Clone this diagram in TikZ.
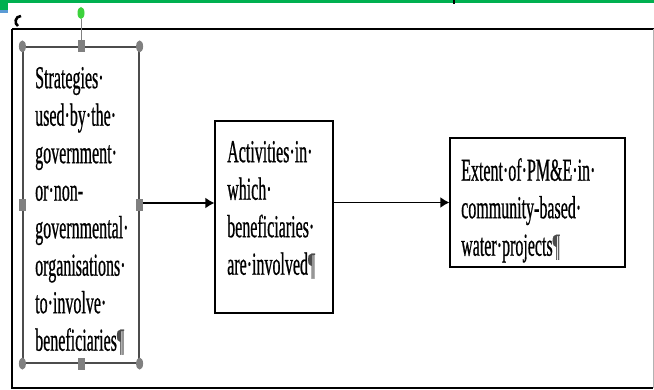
\documentclass[tikz,border=0pt]{standalone}
\usepackage{fontspec}
\setmainfont{Liberation Serif}
\newfontfamily\wordfont[FakeStretch=0.5,FakeBold=0.6]{Liberation Serif}
\usetikzlibrary{arrows.meta}
\definecolor{wordgreen}{HTML}{00B050}
\definecolor{handlegray}{HTML}{808080}
\definecolor{rotgreen}{HTML}{3CD23C}
\definecolor{tabblue}{HTML}{5B9BD5}
\begin{document}
\begin{tikzpicture}[x=1pt,y=-1pt,
  box/.style={draw=black,line width=1.2pt,rectangle,inner sep=0pt},
  selbox/.style={draw=black!70,line width=1.2pt,rectangle,inner sep=0pt},
  txt/.style={anchor=north west,inner sep=0pt,align=left,text=black,
    font=\wordfont\fontsize{32}{37.5}\selectfont},
  conn/.style={draw=black,line width=1.8pt,-{Latex[length=9pt,width=11pt]}},
  cornerhandle/.style={fill=handlegray,draw=none}]
\useasboundingbox (0,0) rectangle (654,390);
\fill[white] (0,0) rectangle (654,390);
% top bar of the editor
\fill[wordgreen] (0,0) rectangle (654,3.5);
\fill[wordgreen] (0,0) rectangle (8,10);
\fill[tabblue] (0,10) rectangle (8,13);
\fill[black] (453,0) rectangle (455,4);
% cut-off paragraph mark
\draw[line width=2.6pt,black] (21,16) .. controls (15,16) and (14,24) .. (18,26);
% outer frame
\draw[black,line width=1.5pt] (12,29) -- (654,29);
\draw[black,line width=1.2pt] (12,29) -- (12,388) -- (653,388);
\draw[black!30,line width=0.8pt] (653,29) -- (653,388);
% boxes
\node[selbox,minimum width=116pt,minimum height=316pt] (b1) at (81,205) {};
\node[box,minimum width=118pt,minimum height=192pt] (b2) at (274,217) {};
\node[box,minimum width=175pt,minimum height=129pt] (b3) at (537.5,202.5) {};
% texts
\node[txt] (t1) at (35,66) {\rule{0pt}{22pt}Strategies·\\used·by·the·\\government·\\or·non-\\governmental·\\organisations·\\to·involve·\\beneficiaries{\color{black!70}¶}};
\node[txt] (t2) at (227,140) {\rule{0pt}{22pt}Activities·in·\\which·\\beneficiaries·\\are·involved{\color{black!70}¶}};
\node[txt] (t3) at (461,158) {\rule{0pt}{22pt}Extent·of·PM\&E·in·\\community-based·\\water·projects{\color{black!70}¶}};
% connectors
\draw[conn] (b1.east |- 0,203) -- (b2.west |- 0,203);
\draw[conn] (b2.east |- b3.west) -- (b3.west);
% selection handles of the first box
\draw[handlegray,line width=1pt] (b1.north) -- (81,19);
\fill[rotgreen] (81,13) ellipse (3.5pt and 6pt);
\foreach \p in {b1.north west,b1.north east,b1.south west,b1.south east}
  \fill[cornerhandle] (\p) ellipse (3.5pt and 6pt);
\foreach \p in {b1.north,b1.south,b1.west,b1.east}
  \fill[cornerhandle] (\p) ++(-3.5,-6) rectangle ++(7,12);
\end{tikzpicture}
\end{document}
